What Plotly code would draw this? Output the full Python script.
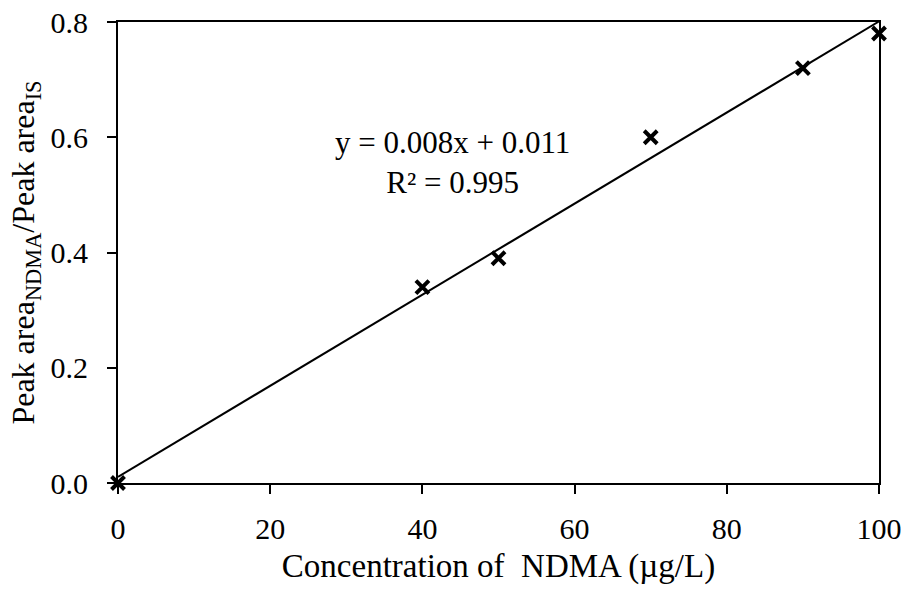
import numpy as np
import plotly.graph_objects as go

# Calibration data: NDMA concentration (µg/L) vs peak-area ratio
concentration = [0, 40, 50, 70, 90, 100]
area_ratio = [0.0, 0.34, 0.39, 0.60, 0.72, 0.78]

x_ticks = [0, 20, 40, 60, 80, 100]
y_ticks = [0.0, 0.2, 0.4, 0.6, 0.8]

# Least-squares calibration line
slope, intercept = np.polyfit(concentration, area_ratio, 1)
fit_x = np.array([0, 100])
fit_y = slope * fit_x + intercept

FONT = "Liberation Serif, Times New Roman, serif"

fig = go.Figure()
fig.add_trace(go.Scatter(
    x=fit_x, y=fit_y, mode="lines",
    line=dict(color="black", width=2), showlegend=False, hoverinfo="skip"))
fig.add_trace(go.Scatter(
    x=concentration, y=area_ratio, mode="markers",
    marker=dict(symbol="x-thin-open", size=13, color="black",
                line=dict(color="black", width=4)),
    showlegend=False, cliponaxis=False))

fig.add_annotation(
    x=43.9, y=0.557, xref="x", yref="y", showarrow=False,
    text="y = 0.008x + 0.011<br>R² = 0.995",
    font=dict(family=FONT, size=31, color="black"), align="center")

axis_common = dict(
    showgrid=False, zeroline=False, showline=True, linecolor="black",
    linewidth=2, mirror=True, ticks="outside", ticklen=9, tickwidth=2,
    tickcolor="black", tickfont=dict(family=FONT, size=30, color="black"),
    automargin=False)

fig.update_xaxes(range=[0, 100], tickvals=x_ticks,
                 ticktext=[str(v) for v in x_ticks], ticklabelstandoff=9,
                 title=dict(text="Concentration of  NDMA (µg/L)",
                            font=dict(family=FONT, size=33, color="black"),
                            standoff=10),
                 **axis_common)
fig.update_yaxes(range=[0, 0.8], tickvals=y_ticks,
                 ticktext=[f"{v:.1f}" for v in y_ticks], ticklabelstandoff=13,
                 title=dict(text="Peak area<sub>NDMA</sub>/Peak area<sub>IS</sub>",
                            font=dict(family=FONT, size=32, color="black"),
                            standoff=6),
                 **axis_common)

fig.update_layout(
    width=908, height=589,
    margin=dict(l=118, r=29, t=22, b=106, autoexpand=False),
    paper_bgcolor="white", plot_bgcolor="white")

fig.write_html("out.html")
